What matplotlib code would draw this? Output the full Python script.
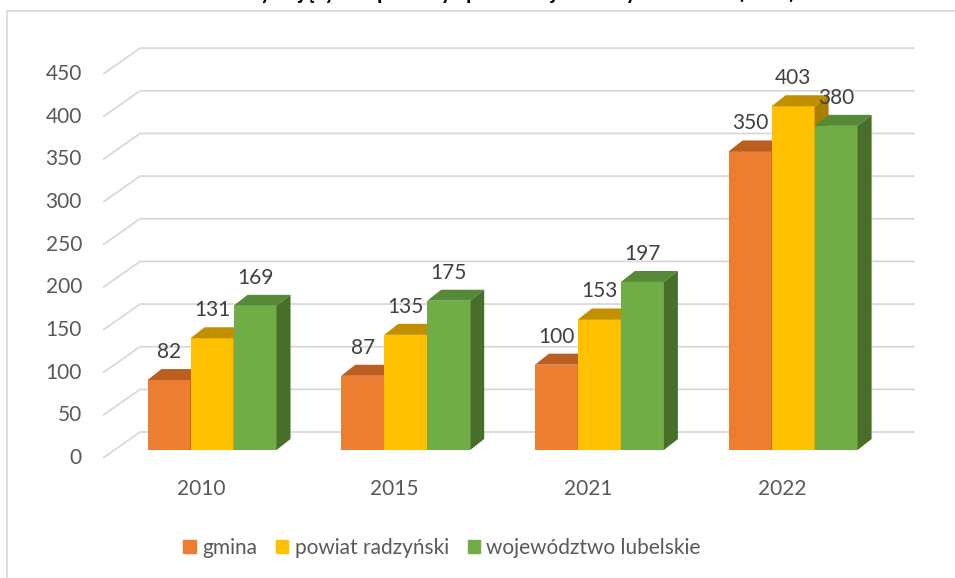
import matplotlib.pyplot as plt
from matplotlib.patches import Polygon, Rectangle, Patch

# data
years = ['2010', '2015', '2021', '2022']
series = ['gmina', 'powiat radzyński', 'województwo lubelskie']
gmina = [82, 87, 100, 350]
powiat = [131, 135, 153, 403]
wojewodztwo = [169, 175, 197, 380]
yticks = [0, 50, 100, 150, 200, 250, 300, 350, 400, 450]
title = 'Liczba osób korzystających z pomocy społecznej na 10 tys. ludności (osób)'

front = ['#ED7D31', '#FFC000', '#70AD47']
top = ['#BA5E22', '#C09000', '#568A37']
side = ['#A4521D', '#A97F00', '#476F2A']

plt.rcParams['font.family'] = ['Lato', 'DejaVu Sans']

W, H = 955, 578
fig = plt.figure(figsize=(W / 100, H / 100), dpi=100)
ax = fig.add_axes([0, 0, 1, 1])

# one x unit = one category, y in data values; pixel scale matched to reference
sx, sy = 193.7, 0.853
x0, v0 = 212, 450
ax.set_xlim(-x0 / sx, (W - x0) / sx)
ax.set_ylim((v0 - H) / sy, v0 / sy)
ax.axis('off')

w = 43 / sx
dx, dy = 14 / sx, 11 / sy

# back wall with diagonal floor lines
fx, fv = -109 / sx, -8 / sy
bx, bv = -72 / sx, 18 / sy
rx = 703 / sx
grid = '#D9D9D9'
for t in yticks:
    ax.plot([fx, bx, rx], [t + fv, t + bv, t + bv], color=grid, lw=1.3, zorder=0,
            solid_capstyle='butt')
    ax.text(-130 / sx, t + fv, str(t), ha='right', va='center', fontsize=15,
            color='#595959')

data = [gmina, powiat, wojewodztwo]
for i in range(len(years)):
    for j, vals in enumerate(data):
        v = vals[i]
        x = i - 1.5 * w + j * w
        ax.bar(x, v, width=w, align='edge', color=front[j], zorder=2 + j)
        ax.add_patch(Polygon([(x, v), (x + w, v), (x + w + dx, v + dy), (x + dx, v + dy)],
                             closed=True, color=top[j], zorder=2 + j, lw=0))
        ax.add_patch(Polygon([(x + w, 0), (x + w, v), (x + w + dx, v + dy), (x + w + dx, dy)],
                             closed=True, color=side[j], zorder=2 + j, lw=0))
        ax.text(x + w / 2, v + dy + 17 / sy, str(v), ha='center', va='center',
                fontsize=15, color='#404040', zorder=10)
    ax.text(i - 11 / sx, -39 / sy, years[i], ha='center', va='center', fontsize=15,
            color='#595959')

# legend
handles = [Patch(color=c) for c in front]
fig.legend(handles, series, loc='center', bbox_to_anchor=(442 / W, 1 - 548 / H), ncol=3,
           frameon=False, fontsize=15, handlelength=0.6, handleheight=0.6,
           handletextpad=0.3, columnspacing=0.9, labelcolor='#595959')

# chart frame (partially cropped in the reference)
fig.patches.append(Rectangle((7 / W, -0.05), 1.1, 1 - 11 / H + 0.05, transform=fig.transFigure,
                             fill=False, edgecolor='#D9D9D9', lw=1.2))

# title, cropped at the top edge as in the reference
fig.text(450 / W, 1 + 1 / H, title, ha='center', va='baseline', fontsize=15,
         fontweight='bold', color='black')

fig.savefig('out.png', dpi=100)
